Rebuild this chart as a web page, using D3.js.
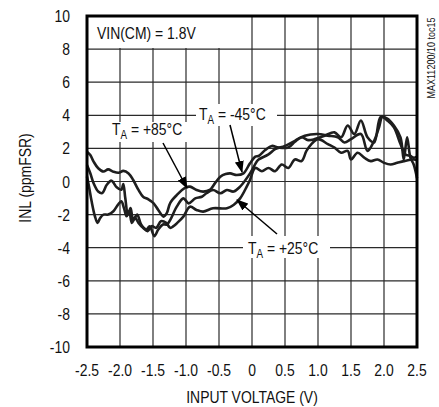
<!DOCTYPE html>
<html><head><meta charset="utf-8">
<script src="https://cdn.jsdelivr.net/npm/d3@7"></script>
<style>
body{margin:0;background:#fff}
svg{display:block}
text{font-family:"Liberation Sans Narrow","Arial Narrow","Liberation Sans",sans-serif;fill:#111}
</style>
</head><body>
<svg id="c" width="439" height="407"></svg>
<script>
const xTicks = [-2.5,-2.0,-1.5,-1.0,-0.5,0,0.5,1.0,1.5,2.0,2.5];
const xTickLabels = ["-2.5","-2.0","-1.5","-1.0","-0.5","0","0.5","1.0","1.5","2.0","2.5"];
const yTicks = [-10,-8,-6,-4,-2,0,2,4,6,8,10];
const yTickLabels = ["-10","-8","-6","-4","-2","0","2","4","6","8","10"];

const seriesP85 = [[-2.5,1.8],[-2.45,1.6],[-2.4,1.2],[-2.33,0.8],[-2.25,0.6],[-2.18,0.73],[-2.1,0.59],[-2.02,0.53],[-1.95,0.64],[-1.87,0.49],[-1.8,0.09],[-1.72,-0.51],[-1.65,-0.92],[-1.57,-1.08],[-1.49,-1.32],[-1.42,-1.72],[-1.34,-2.12],[-1.29,-1.9],[-1.24,-1.3],[-1.14,-0.82],[-1.01,-0.37],[-0.94,-0.31],[-0.84,-0.51],[-0.74,-0.61],[-0.64,-0.51],[-0.56,-0.1],[-0.48,0.29],[-0.4,0.45],[-0.33,0.49],[-0.23,0.39],[-0.13,0.49],[-0.03,1.1],[0.05,1.5],[0.1,1.54],[0.2,1.9],[0.3,2.15],[0.4,2.05],[0.55,2.05],[0.65,2.4],[0.75,2.67],[0.85,2.5],[0.95,2.56],[1.1,2.77],[1.25,2.97],[1.35,2.67],[1.45,3.38],[1.55,2.87],[1.65,3.69],[1.75,2.67],[1.85,2.36],[1.95,3.9],[2.05,3.8],[2.15,3.38],[2.25,2.67],[2.3,1.33],[2.35,2.67],[2.4,1.44],[2.45,1.03],[2.5,0.2]];

const seriesM45 = [[-2.5,1.0],[-2.45,0.5],[-2.4,-0.1],[-2.33,-0.6],[-2.27,-0.7],[-2.2,-0.2],[-2.13,0.05],[-2.05,-0.35],[-1.98,-0.5],[-1.95,-0.15],[-1.92,-1.0],[-1.88,-2.0],[-1.84,-1.6],[-1.8,-2.3],[-1.74,-2.0],[-1.68,-2.6],[-1.6,-2.9],[-1.55,-2.7],[-1.48,-3.3],[-1.42,-2.9],[-1.35,-2.6],[-1.29,-2.6],[-1.24,-2.33],[-1.14,-1.52],[-1.04,-1.02],[-0.96,-1.32],[-0.86,-1.02],[-0.76,-0.92],[-0.69,-0.71],[-0.59,-0.51],[-0.48,-0.71],[-0.38,-0.51],[-0.28,-0.61],[-0.18,-0.31],[-0.03,0.49],[0.07,1.2],[0.1,1.33],[0.25,1.64],[0.35,1.95],[0.5,2.15],[0.65,2.46],[0.8,2.77],[1.0,2.87],[1.15,2.77],[1.3,2.67],[1.4,2.36],[1.5,2.56],[1.65,2.87],[1.75,1.85],[1.85,2.46],[1.925,3.28],[1.975,3.9],[2.05,3.69],[2.15,3.28],[2.25,2.26],[2.325,1.64],[2.4,1.54],[2.45,1.44],[2.5,1.5]];

const seriesP25 = [[-2.5,0.3],[-2.47,-0.3],[-2.43,-1.2],[-2.38,-2.1],[-2.34,-2.5],[-2.3,-2.2],[-2.25,-2.0],[-2.18,-2.0],[-2.1,-1.8],[-2.03,-1.4],[-1.98,-1.2],[-1.94,-1.6],[-1.9,-2.1],[-1.86,-1.8],[-1.82,-2.5],[-1.77,-2.2],[-1.72,-2.5],[-1.65,-2.8],[-1.58,-3.0],[-1.52,-2.7],[-1.45,-2.8],[-1.38,-2.4],[-1.3,-2.5],[-1.24,-2.8],[-1.19,-2.7],[-1.14,-2.53],[-1.04,-2.12],[-0.94,-1.52],[-0.84,-1.72],[-0.74,-1.82],[-0.59,-1.62],[-0.38,-1.62],[-0.28,-1.42],[-0.18,-1.02],[-0.08,-0.31],[-0.03,0.1],[0.05,0.82],[0.15,0.62],[0.25,0.82],[0.35,0.62],[0.45,1.03],[0.55,0.82],[0.65,1.33],[0.75,1.23],[0.825,1.85],[0.9,2.26],[1.0,2.56],[1.15,2.26],[1.25,2.05],[1.35,1.74],[1.45,1.85],[1.5,1.33],[1.6,1.74],[1.7,1.44],[1.8,1.23],[1.9,1.33],[2.0,1.13],[2.1,1.03],[2.2,1.13],[2.3,1.23],[2.45,1.33],[2.5,1.3]];

const svg = d3.select("#c");
const L = 87, R = 417, T = 16, B = 347;
const SX = 0.82; // horizontal condensing to mimic a narrow typeface
const x = d3.scaleLinear().domain([-2.5,2.5]).range([L,R]);
const y = d3.scaleLinear().domain([-10,10]).range([B,T]);

function txt(px, py, str, size, anchor, rot){
  const gg = svg.append("g")
    .attr("transform",`translate(${px},${py}) rotate(${rot||0}) scale(${SX},1)`);
  return gg.append("text").attr("x",0).attr("y",0)
    .attr("font-size",size).attr("text-anchor",anchor||"start").text(str);
}

// grid
const g = svg.append("g");
g.selectAll("line.v").data(xTicks).join("line")
  .attr("x1",d=>x(d)).attr("x2",d=>x(d)).attr("y1",T).attr("y2",B)
  .attr("stroke","#2a2a2a").attr("stroke-width",1.2);
g.selectAll("line.h").data(yTicks).join("line")
  .attr("x1",L).attr("x2",R).attr("y1",d=>y(d)).attr("y2",d=>y(d))
  .attr("stroke","#2a2a2a").attr("stroke-width",1.2);

// label backgrounds (white boxes that break the grid)
const boxes = [[L+1,T+1,132,31],[108,122,88,20],[196,104,81,22],[243,236,87,22]];
svg.selectAll("rect.bg").data(boxes).join("rect")
  .attr("x",d=>d[0]).attr("y",d=>d[1]).attr("width",d=>d[2]).attr("height",d=>d[3])
  .attr("fill","#fff");

// curves
const line = d3.line().x(d=>x(d[0])).y(d=>y(d[1])).curve(d3.curveCatmullRom.alpha(0.5));
svg.selectAll("path.s").data([seriesP85,seriesM45,seriesP25]).join("path")
  .attr("d",line).attr("fill","none").attr("stroke","#1e1e1e")
  .attr("stroke-width",2.6).attr("stroke-linejoin","round");

// frame
svg.append("rect").attr("x",L).attr("y",T).attr("width",R-L).attr("height",B-T)
  .attr("fill","none").attr("stroke","#000").attr("stroke-width",3);

// tick labels
xTicks.forEach((d,i)=>txt(x(d),376,xTickLabels[i],17,"middle"));
yTicks.forEach((d,i)=>txt(70,y(d)+6,yTickLabels[i],17,"end"));

// axis titles
txt(252,403,"INPUT VOLTAGE (V)",17,"middle");
txt(31,178,"INL (ppmFSR)",17,"middle",-90);
txt(435,58,"MAX11200/10 toc15",11,"middle",-90);

// annotation text
txt(97,39,"VIN(CM) = 1.8V",17,"start");
function tLabel(px, py, rest){
  const t = txt(px,py,"",17,"start");
  t.append("tspan").text("T");
  t.append("tspan").attr("font-size",12).attr("dy",4).text("A");
  t.append("tspan").attr("dy",-4).text(rest);
}
tLabel(112,135," = +85°C");
tLabel(199,120," = -45°C");
tLabel(248,254," = +25°C");

// arrows
const defs = svg.append("defs");
defs.append("marker").attr("id","ah").attr("markerUnits","userSpaceOnUse")
  .attr("markerWidth",12).attr("markerHeight",10).attr("refX",11).attr("refY",4.5)
  .attr("orient","auto")
  .append("path").attr("d","M0,0 L12,4.5 L0,9 Z").attr("fill","#000");
const arrows = [[163,143,187,188],[230,125,242,172],[277,234,237,200]];
svg.selectAll("line.ar").data(arrows).join("line")
  .attr("x1",d=>d[0]).attr("y1",d=>d[1]).attr("x2",d=>d[2]).attr("y2",d=>d[3])
  .attr("stroke","#000").attr("stroke-width",1.5).attr("marker-end","url(#ah)");
</script>
</body></html>
